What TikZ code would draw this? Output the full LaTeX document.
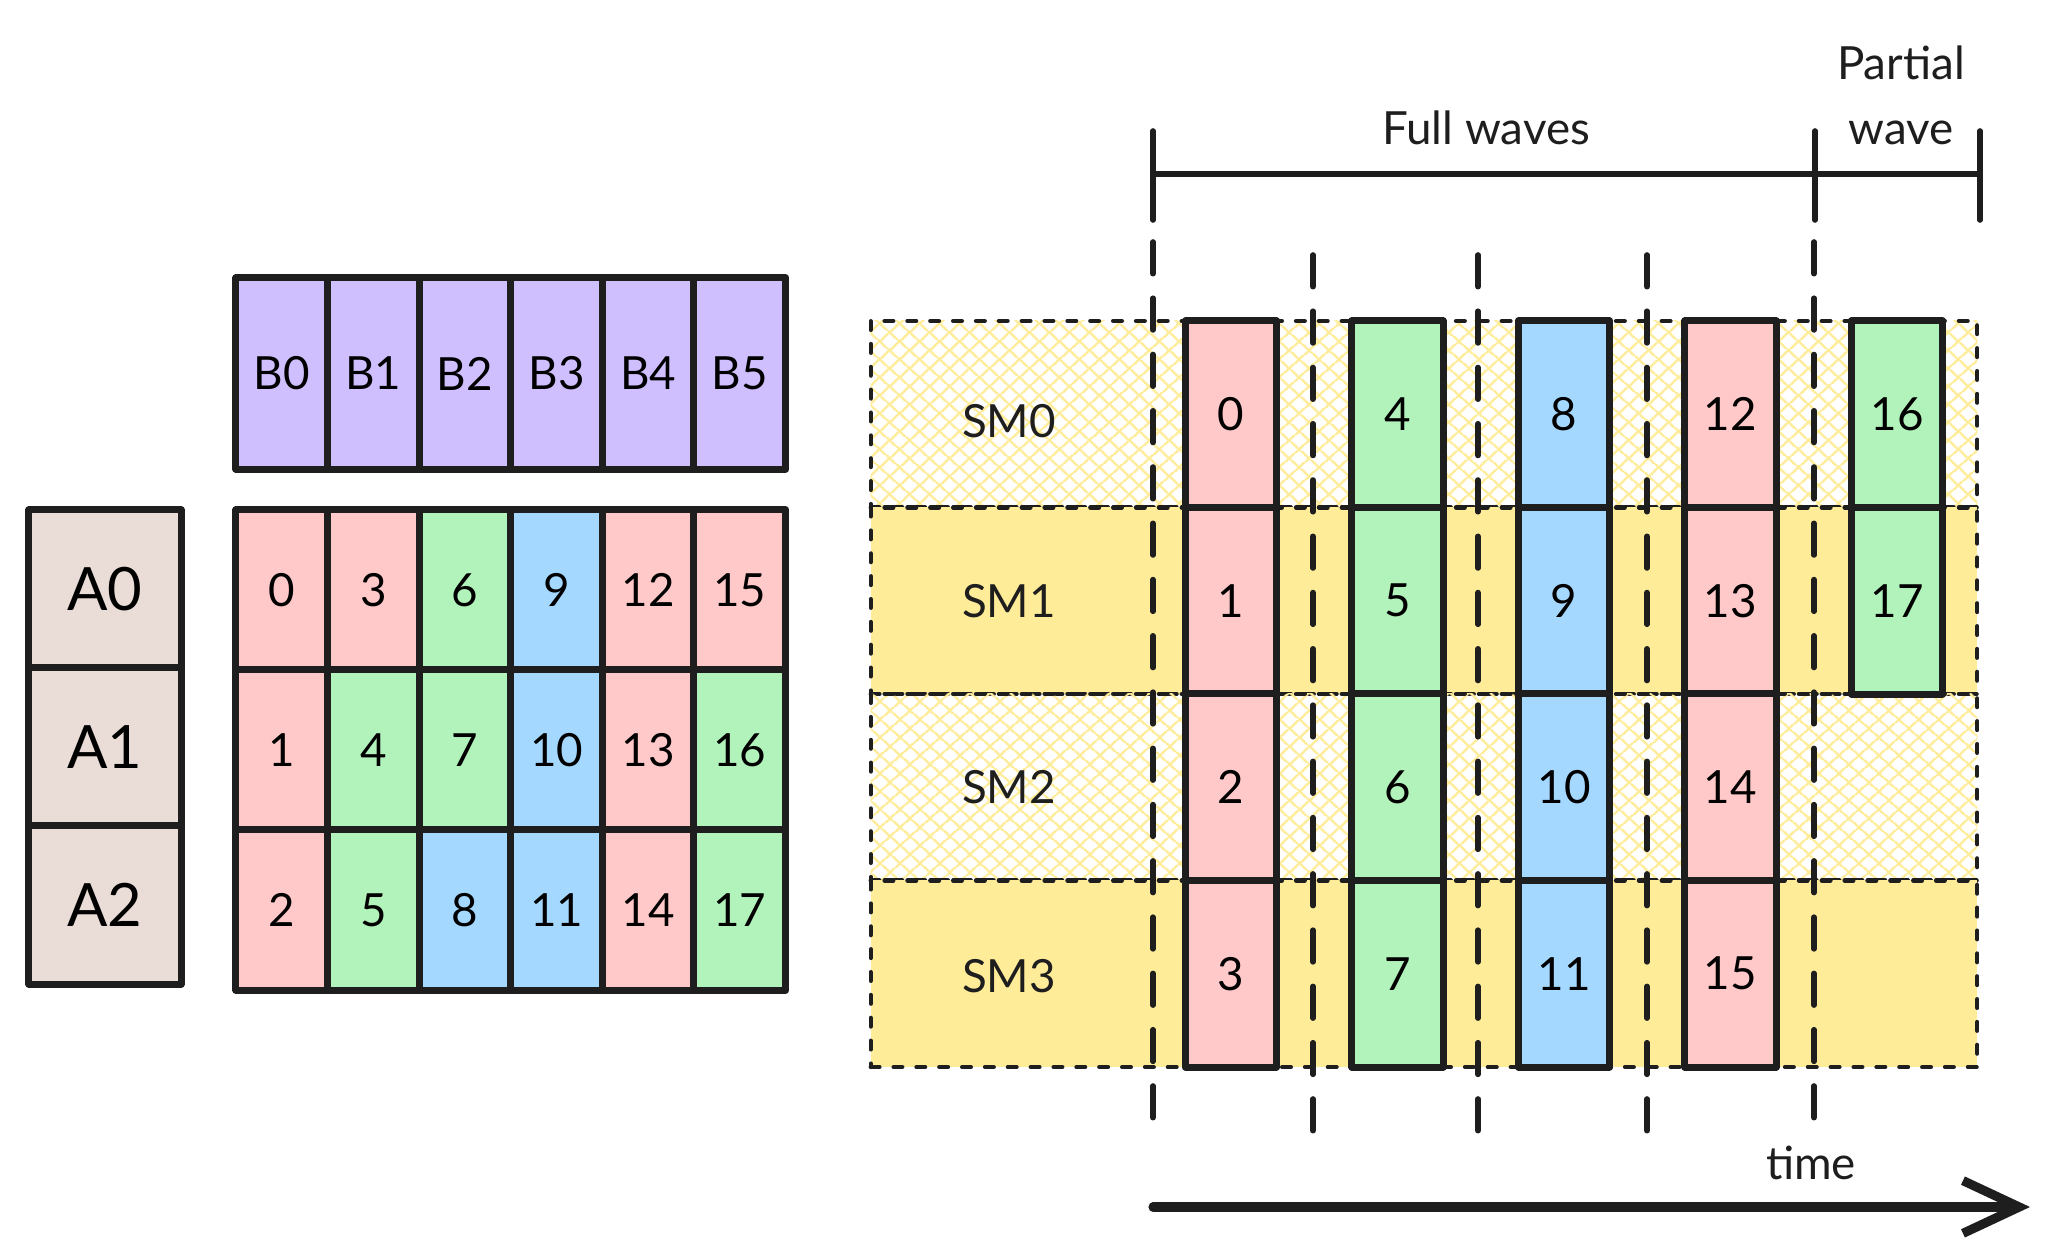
\documentclass[tikz,border=0pt]{standalone}
\usepackage{fontspec}
\setmainfont{Lato}
\usetikzlibrary{positioning, patterns.meta, arrows.meta}

\definecolor{ink}{HTML}{1E1E1E}
\definecolor{pinkc}{HTML}{FFC9C9}
\definecolor{greenc}{HTML}{B2F2BB}
\definecolor{bluec}{HTML}{A5D8FF}
\definecolor{purplec}{HTML}{D0BFFF}
\definecolor{tanc}{HTML}{EADDD7}
\definecolor{yellowc}{HTML}{FFEC99}
\colorlet{wave0}{pinkc}
\colorlet{wave1}{greenc}
\colorlet{wave2}{bluec}
\colorlet{wave3}{pinkc}
\colorlet{wave4}{greenc}

\tikzset{
  box/.style={draw=ink, line width=2pt, inner sep=0pt, line join=round, font=\fontsize{13}{15}\selectfont},
  acell/.style={box, fill=tanc, minimum width=1.52cm, minimum height=1.58cm, font=\fontsize{17}{20}\selectfont},
  bcell/.style={box, fill=purplec, minimum width=0.916cm, minimum height=1.91cm},
  tile/.style={box, minimum width=0.916cm, minimum height=1.6cm},
  wtile/.style={box, minimum width=0.91cm, minimum height=1.865cm},
  smrow/.style={draw=ink, line width=1.2pt, line cap=round, dash pattern=on 2.5pt off 4pt, minimum width=11.06cm, minimum height=1.865cm, inner sep=0pt},
  hatched/.style={preaction={pattern={Lines[angle=-42, distance=4pt, line width=0.7pt]}, pattern color=yellowc},
    pattern={Lines[angle=42, distance=4pt, line width=0.7pt]}, pattern color=yellowc},
  waveline/.style={draw=ink, line width=1.6pt, line cap=round, dash pattern=on 9pt off 7pt},
  bar/.style={draw=ink, line width=1.6pt, line cap=round},
  label/.style={font=\fontsize{13}{18.5}\selectfont, text=ink},
}

\begin{document}
\begin{tikzpicture}[x=0.01cm, y=-0.01cm]
  \useasboundingbox (0,0) rectangle (2053,1243);

  % operands and output tiles
  \foreach \r in {0,1,2} {
    \node[acell] (a\r) at (105, {589+158*\r}) {A\r};
  }
  \foreach \c in {0,...,5} {
    \node[bcell] (b\c) at ({281.8+91.6*\c}, 373.5) {B\c};
    \foreach \r in {0,1,2} {
      \pgfmathtruncatemacro{\k}{3*\c+\r}
      \pgfmathtruncatemacro{\w}{\k/4}
      \node[tile, fill=wave\w] (t\k) at ({281.8+91.6*\c}, {590+160*\r}) {\k};
    }
  }

  % SM rows
  \foreach \s in {0,...,3} {
    \pgfmathsetmacro{\yy}{414.25+186.5*\s}
    \ifodd\s
      \node[smrow, fill=yellowc] (sm\s) at (1424,\yy) {};
    \else
      \node[smrow, hatched] (sm\s) at (1424,\yy) {};
    \fi
  }
  \node[label] (lab0) at (1009,421) {SM0};
  \node[label] (lab1) at (1009,601) {SM1};
  \node[label] (lab2) at (1009,787) {SM2};
  \node[label] (lab3) at (1009,976) {SM3};

  % wave boundaries
  \foreach \x/\t in {1153/242, 1313/255, 1478/255, 1647/255, 1814/242} {
    \draw[waveline] (\x,\t) -- (\x,1139);
  }

  % tiles scheduled per wave
  \foreach \w in {0,...,4} {
    \foreach \s in {0,...,3} {
      \pgfmathtruncatemacro{\k}{4*\w+\s}
      \ifnum\k<18
        \node[wtile, fill=wave\w] (r\k) at ({1231+166.5*\w}, {414.25+186.5*\s}) {\k};
      \fi
    }
  }

  % brackets
  \coordinate (fa) at (1153,174);
  \coordinate (fb) at (1815,174);
  \coordinate (fc) at (1980,174);
  \draw[bar] (fa) -- (fc);
  \foreach \p in {fa,fb,fc} {
    \draw[bar] ([yshift=0.43cm]\p) -- ([yshift=-0.46cm]\p);
  }
  \node[label] (full) at (1486,128) {Full waves};
  \node[label, align=center] (part) at (1901,95) {Partial\\wave};

  % time axis
  \coordinate (ts) at (1153,1207);
  \coordinate (te) at (2030,1207);
  \draw[draw=ink, line width=2.6pt, line cap=round, -{Straight Barb[length=16pt, width=15pt, line width=2.6pt]}] (ts) -- (te);
  \node[label] (time) at (1811,1163) {time};
\end{tikzpicture}
\end{document}
